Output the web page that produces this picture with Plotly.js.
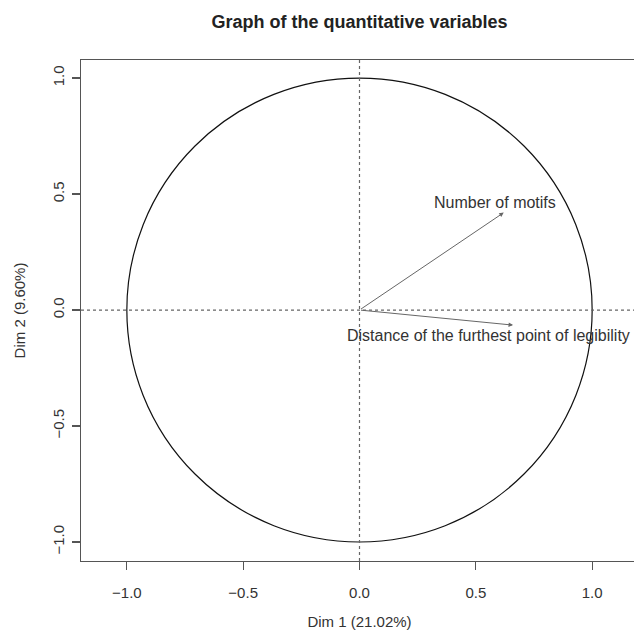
<!DOCTYPE html>
<html>
<head>
<meta charset="utf-8">
<script src="https://cdn.plot.ly/plotly-3.0.1.min.js"></script>
<style>
  html, body { margin: 0; padding: 0; overflow: hidden; background: #fff; }
  #chart { width: 640px; height: 630px; }
</style>
</head>
<body>
<div id="chart"></div>
<script>
// Variables of the PCA correlation circle
const varNames = ["Number of motifs", "Distance of the furthest point of legibility"];
const dim1 = [0.62, 0.66];      // coordinates on Dim 1
const dim2 = [0.42, -0.065];    // coordinates on Dim 2
const xTitle = "Dim 1 (21.02%)";
const yTitle = "Dim 2 (9.60%)";
const chartTitle = "Graph of the quantitative variables";
const tickValues = [-1, -0.5, 0, 0.5, 1];

const FONT = "Liberation Sans, Arial, Helvetica, sans-serif";
const AXIS_COLOR = "#555";
const TEXT_COLOR = "#333";

// label placement per variable (above for positive Dim 2, below otherwise)
const labelShiftX = [-9, -25];

const annotations = [];
for (let i = 0; i < varNames.length; i++) {
  annotations.push({
    x: dim1[i], y: dim2[i], xref: "x", yref: "y",
    ax: 0, ay: 0, axref: "x", ayref: "y",
    showarrow: true, arrowhead: 2, arrowsize: 0.9, arrowwidth: 1,
    arrowcolor: "#666", text: ""
  });
  annotations.push({
    x: dim1[i], y: dim2[i], xref: "x", yref: "y",
    text: varNames[i], showarrow: false,
    xanchor: "center",
    yanchor: dim2[i] >= 0 ? "bottom" : "top",
    xshift: labelShiftX[i],
    yshift: dim2[i] >= 0 ? 0 : 0,
    font: { family: FONT, size: 16, color: TEXT_COLOR }
  });
}

const shapes = [
  { type: "circle", xref: "x", yref: "y", x0: -1, x1: 1, y0: -1, y1: 1,
    line: { color: "#111", width: 1.2 } },
  { type: "line", xref: "paper", yref: "y", x0: 0, x1: 1, y0: 0, y1: 0,
    line: { color: "#666", width: 1.2, dash: "3px,3px" } },
  { type: "line", xref: "x", yref: "paper", x0: 0, x1: 0, y0: 0, y1: 1,
    line: { color: "#666", width: 1.2, dash: "3px,3px" } }
];

const axisCommon = {
  showgrid: false, zeroline: false,
  showline: true, mirror: true, linecolor: AXIS_COLOR, linewidth: 1.3,
  ticks: "outside", ticklen: 8, tickwidth: 1.2, tickcolor: AXIS_COLOR,
  tickvals: tickValues, tickformat: ".1f",
  tickfont: { family: FONT, size: 15, color: TEXT_COLOR },
  fixedrange: true
};

const layout = {
  width: 640, height: 630,
  margin: { l: 81, r: 2, t: 60, b: 69 },
  paper_bgcolor: "#fff", plot_bgcolor: "#fff",
  showlegend: false,
  title: {
    text: "<b>" + chartTitle + "</b>",
    font: { family: FONT, size: 18, color: "#222" },
    xref: "paper", x: 0.5, xanchor: "center",
    yref: "container", y: 1 - 22 / 630, yanchor: "middle"
  },
  xaxis: Object.assign({}, axisCommon, {
    range: [-1.197, 1.197],
    ticklabelstandoff: 10,
    title: { text: xTitle, standoff: 20, font: { family: FONT, size: 15, color: TEXT_COLOR } }
  }),
  yaxis: Object.assign({}, axisCommon, {
    range: [-1.082, 1.078],
    tickangle: -90,
    ticklabelstandoff: 2,
    title: { text: yTitle, standoff: 20, font: { family: FONT, size: 15, color: TEXT_COLOR } }
  }),
  shapes: shapes,
  annotations: annotations
};

const trace = {
  type: "scatter", mode: "markers",
  x: dim1, y: dim2,
  marker: { size: 1, opacity: 0 },
  hoverinfo: "skip"
};

Plotly.newPlot("chart", [trace], layout, { displayModeBar: false, staticPlot: true });
</script>
</body>
</html>
